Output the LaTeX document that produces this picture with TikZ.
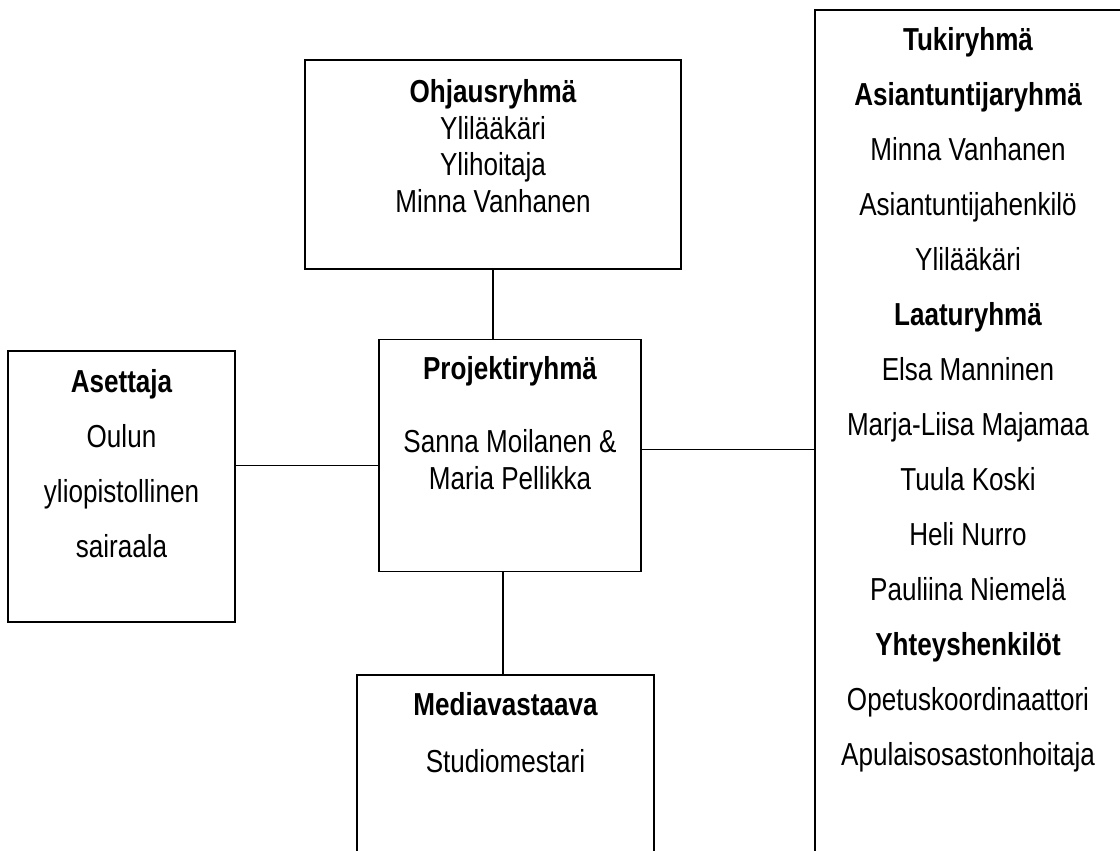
\documentclass[tikz,border=0pt]{standalone}
\usepackage{fontspec}
\setmainfont{Liberation Sans}[FakeStretch=0.82]
\begin{document}
\begin{tikzpicture}[x=0.75pt,y=-0.75pt,
  box/.style={draw=black, line width=1.2pt, inner sep=0pt, outer sep=0pt},
  conn/.style={draw=black, line width=1.2pt},
  txt/.style={anchor=base, inner sep=0pt, font=\fontsize{23.85}{28}\selectfont},
  hd/.style={txt, font=\fontsize{23.85}{28}\selectfont\bfseries}]
\useasboundingbox (0,0) rectangle (1120,850);
\clip (0,0) rectangle (1120,850);
\fill[white] (0,0) rectangle (1120,850);
% boxes
\node[box, minimum width=282pt, minimum height=156.75pt] (ohj) at (493,164.5) {};
\node[box, minimum width=196.5pt, minimum height=174pt] (proj) at (510,455.5) {};
\node[box, minimum width=170.25pt, minimum height=203.25pt] (ase) at (121.5,486.5) {};
\node[box, minimum width=222.75pt, minimum height=168.75pt] (media) at (505.5,787.5) {};
\node[box, minimum width=251.25pt, minimum height=667.5pt] (tuki) at (982.5,455) {};
% connector helpers
\coordinate (yleft) at (0,465.5);
\coordinate (yright) at (0,449.5);
\coordinate (xbot) at (503,0);
\draw[conn] (ohj.south) -- (ohj.south |- proj.north);
\draw[conn] (ase.east |- yleft) -- (proj.west |- yleft);
\draw[conn] (proj.east |- yright) -- (tuki.west |- yright);
\draw[conn] (proj.south -| xbot) -- (media.north -| xbot);
% Ohjausryhma
\node[hd]  (o1) at (493,102.5) {Ohjausryhmä};
\node[txt] (o2) at (493,139) {Ylilääkäri};
\node[txt] (o3) at (493,175.5) {Ylihoitaja};
\node[txt] (o4) at (493,212) {Minna Vanhanen};
% Projektiryhma
\node[hd]  (p1) at (510,379) {Projektiryhmä};
\node[txt] (p2) at (510,452) {Sanna Moilanen \&};
\node[txt] (p3) at (510,489) {Maria Pellikka};
% Asettaja
\node[hd]  (a1) at (121.5,392) {Asettaja};
\node[txt] (a2) at (121.5,447) {Oulun};
\node[txt] (a3) at (121.5,502) {yliopistollinen};
\node[txt] (a4) at (121.5,557) {sairaala};
% Mediavastaava
\node[hd]  (m1) at (505.5,715) {Mediavastaava};
\node[txt] (m2) at (505.5,772) {Studiomestari};
% Tukiryhma
\node[hd]  (t0) at (968,50) {Tukiryhmä};
\node[hd]  (t1) at (968,105) {Asiantuntijaryhmä};
\node[txt] (t2) at (968,160) {Minna Vanhanen};
\node[txt] (t3) at (968,215) {Asiantuntijahenkilö};
\node[txt] (t4) at (968,270) {Ylilääkäri};
\node[hd]  (t5) at (968,325) {Laaturyhmä};
\node[txt] (t6) at (968,380) {Elsa Manninen};
\node[txt] (t7) at (968,435) {Marja-Liisa Majamaa};
\node[txt] (t8) at (968,490) {Tuula Koski};
\node[txt] (t9) at (968,545) {Heli Nurro};
\node[txt] (t10) at (968,600) {Pauliina Niemelä};
\node[hd]  (t11) at (968,655) {Yhteyshenkilöt};
\node[txt] (t12) at (968,710) {Opetuskoordinaattori};
\node[txt] (t13) at (968,765) {Apulaisosastonhoitaja};
\end{tikzpicture}
\end{document}
